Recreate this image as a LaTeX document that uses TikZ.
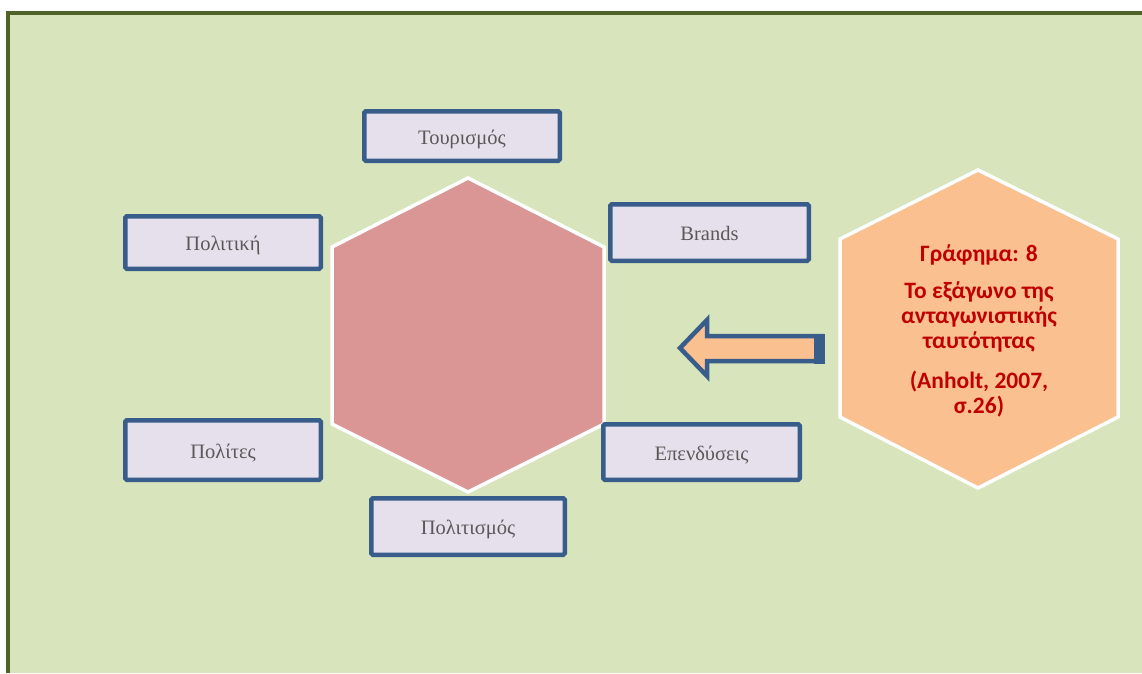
\documentclass[tikz,border=0pt]{standalone}
\usepackage{fontspec}
\setmainfont{Liberation Serif}
\newfontfamily\calib{Carlito}
\definecolor{framegreen}{HTML}{4F6228}
\definecolor{bggreen}{HTML}{D8E4BC}
\definecolor{boxblue}{HTML}{385D8A}
\definecolor{boxfill}{HTML}{E6E0EC}
\definecolor{textgray}{HTML}{595959}
\definecolor{hexrose}{HTML}{D99694}
\definecolor{hexorange}{HTML}{FAC090}
\definecolor{titlered}{HTML}{C00000}
\begin{document}
\begin{tikzpicture}[x=1pt,y=-1pt,
  label box/.style={draw=boxblue, line width=4.5pt, fill=boxfill, rounded corners=1.5pt,
    inner sep=0pt, text=textgray, font=\fontsize{20.5}{24}\selectfont,
    text height=16pt, text depth=0pt},
  hexface/.style={draw=white, line width=3.5pt, line join=miter},
]
% page and frame
\useasboundingbox (0,0) rectangle (1142,673);
\fill[white] (0,0) rectangle (1142,673);
\fill[framegreen] (6,11) rectangle (1142,15);
\fill[framegreen] (6,11) rectangle (10,673);
\fill[bggreen] (10,15) rectangle (1142,673);

% central hexagon
\draw[hexface, fill=hexrose] (468,178) -- (604,247) -- (604,424) -- (468,492)
  -- (332,424) -- (332,247) -- cycle;

% surrounding labels
\node[label box, minimum width=195.5pt, minimum height=49.5pt] (tourism) at (462,136) {Τουρισμός};
\node[label box, minimum width=195.5pt, minimum height=52.5pt] (politics) at (223,242.5) {Πολιτική};
\node[label box, minimum width=198.5pt, minimum height=56.5pt] (brands) at (709.5,232.5) {Brands};
\node[label box, minimum width=195.5pt, minimum height=59.5pt] (citizens) at (223,450) {Πολίτες};
\node[label box, minimum width=196.5pt, minimum height=55.5pt] (invest) at (701.5,452) {Επενδύσεις};
\node[label box, minimum width=193.5pt, minimum height=56.5pt] (culture) at (468,526.5) {Πολιτισμός};

% title hexagon
\draw[hexface, fill=hexorange] (978,170) -- (1118,239) -- (1118,417) -- (978,488)
  -- (840,417) -- (840,239) -- cycle;
\node[font=\calib\bfseries\fontsize{23.5}{25}\selectfont, text=titlered, align=center, inner sep=0pt]
  (title) at (979,331) {Γράφημα: 8\\[12pt]Το εξάγωνο της\\ανταγωνιστικής\\ταυτότητας\\[15pt](Anholt, 2007,\\σ.26)};

% pointer arrow
\draw[draw=boxblue, line width=4.5pt, fill=hexorange, line join=miter]
  (680,348) -- (707,320) -- (707,336) -- (822,336) -- (822,361) -- (707,361) -- (707,376) -- cycle;
\fill[boxblue] (814,333.5) rectangle (825,363.5);
\end{tikzpicture}
\end{document}
